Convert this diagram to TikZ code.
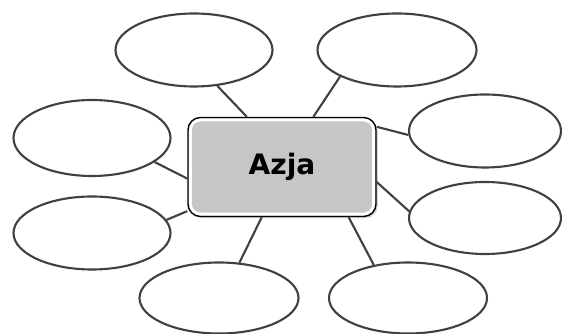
\documentclass[tikz,border=0pt]{standalone}
\usepackage{fontspec}
\newfontfamily\hubfont{DejaVu Sans}
\usetikzlibrary{shapes.geometric,shadows}

\begin{document}
\begin{tikzpicture}[line width=1.2pt,
  bubble/.style={ellipse, draw=black!75, minimum width=3.14cm, minimum height=1.46cm, inner sep=0pt},
  hub/.style={rectangle, rounded corners=0.25cm, draw=black, line width=0.8pt, fill=gray!45,
    minimum width=3.76cm, minimum height=1.98cm,
    drop shadow={shadow xshift=1pt, shadow yshift=-1pt, opacity=0.35},
    font=\hubfont\bfseries\fontsize{16}{18}\selectfont},
  link/.style={draw=black!75}]
\useasboundingbox (0,0) rectangle (11.24,6.68);

\node[hub] (azja) at (5.64,3.34) {Azja};
\draw[white, line width=1.6pt, rounded corners=0.2cm] ([shift={(1.8pt,1.8pt)}]azja.south west) rectangle ([shift={(-1.8pt,-1.8pt)}]azja.north east);

\node[bubble] (tl) at (3.88,5.68) {};
\node[bubble, minimum width=3.18cm] (tr) at (7.94,5.68) {};
\node[bubble, minimum height=1.52cm] (ml) at (1.84,3.92) {};
\node[bubble, minimum width=3.04cm] (mr) at (9.70,4.06) {};
\node[bubble] (ll) at (1.84,2.02) {};
\node[bubble, minimum width=3.04cm, minimum height=1.44cm] (lr) at (9.70,2.32) {};
\node[bubble, minimum width=3.18cm, minimum height=1.42cm] (bl) at (4.38,0.72) {};
\node[bubble, minimum width=3.16cm, minimum height=1.42cm] (br) at (8.16,0.72) {};

\draw[link] (tl.303) -- (azja.125);
\draw[link] (tr.205) -- (azja.58);
\draw[link] (ml.339) -- (azja.187);
\draw[link] (mr.183) -- (azja.23);
\draw[link] (ll.10) -- (azja.205);
\draw[link] (lr.175) -- (azja.351);
\draw[link] (bl.60) -- (azja.248);
\draw[link] (br.136) -- (azja.323);
\end{tikzpicture}
\end{document}
